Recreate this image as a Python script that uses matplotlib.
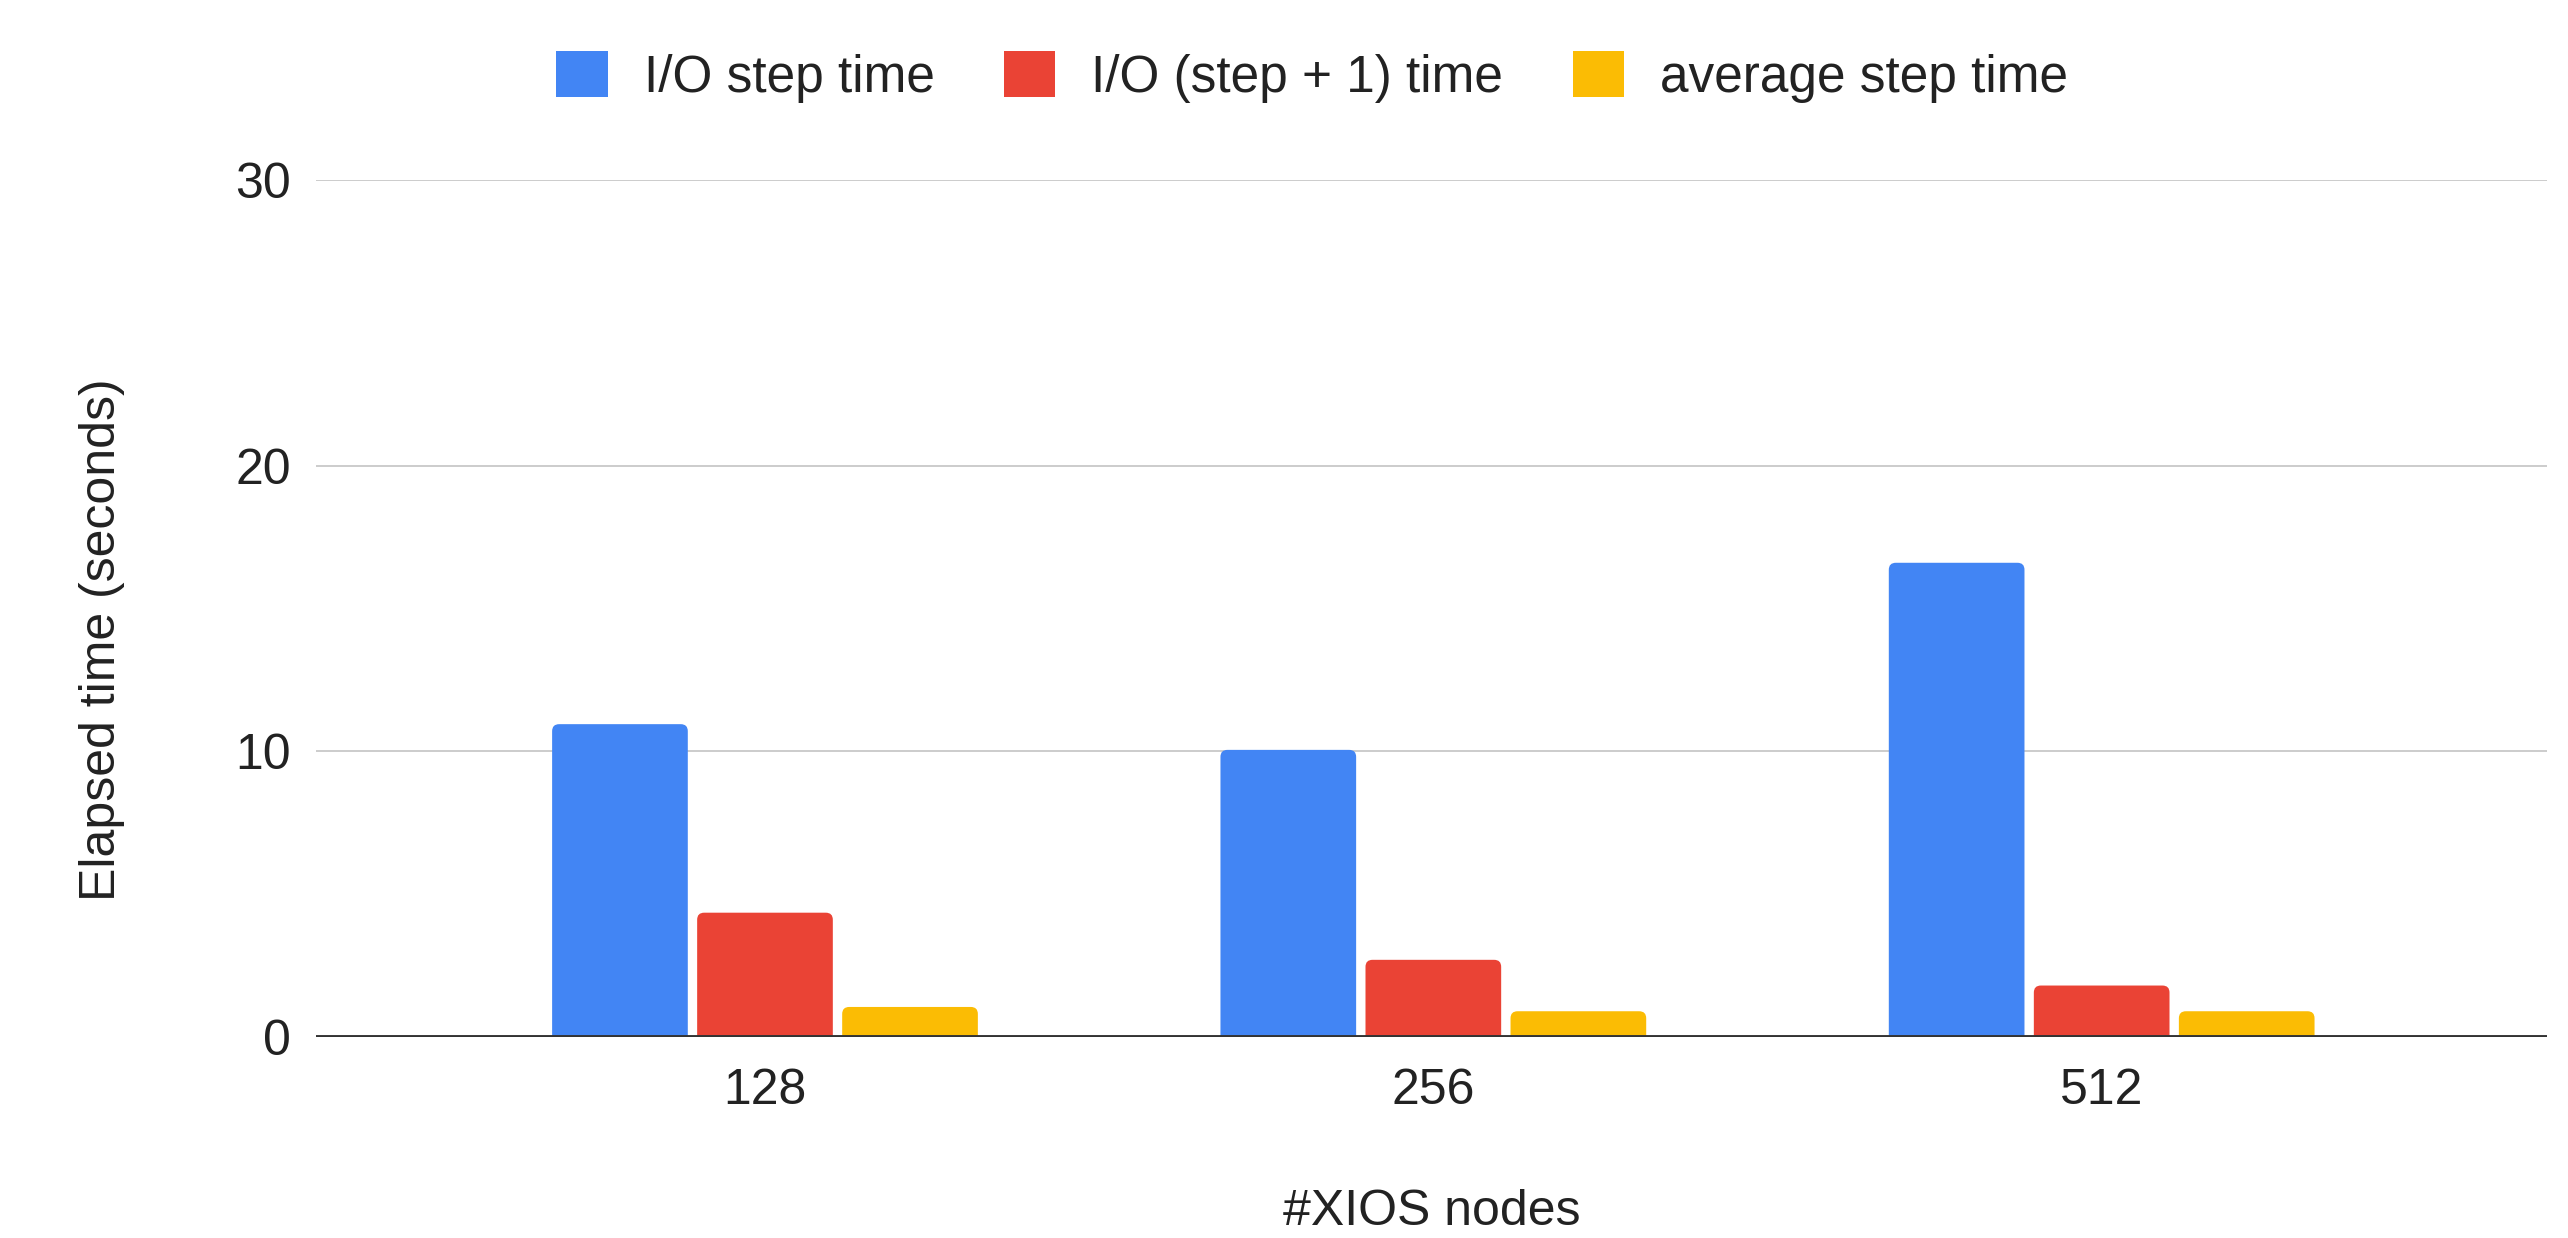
import matplotlib
matplotlib.use("Agg")
import matplotlib.pyplot as plt
from matplotlib.patches import FancyBboxPatch, Patch
import numpy as np

plt.rcParams['font.family'] = ['Liberation Sans', 'DejaVu Sans']

# Data
categories = ["128", "256", "512"]
io_step = [10.95, 10.05, 16.6]
io_step_plus1 = [4.35, 2.7, 1.8]
avg_step = [1.05, 0.9, 0.9]
series_names = ["I/O step time", "I/O (step + 1) time", "average step time"]
colors = ["#4285F4", "#EA4335", "#FBBC04"]

fig = plt.figure(figsize=(25.68, 12.38), dpi=100)
ax = fig.add_axes([0.123, 0.1624, 0.869, 0.6922])

x = np.arange(len(categories))
width = 0.203
offsets = [-0.217, 0.0, 0.217]
series = [io_step, io_step_plus1, avg_step]

ax.set_xlim(-0.672, 2.667)
ax.set_ylim(0, 30)

# Bars with slightly rounded top corners
px_per_x = 0.869 * 2568 / (2.667 + 0.672)
px_per_y = 0.6922 * 1238 / 30
aspect = px_per_x / px_per_y
r = 7 / px_per_x
ext = 10 / px_per_y
for vals, off, c in zip(series, offsets, colors):
    bars = ax.bar(x + off, vals, width, color=c, zorder=3)
    for b in bars:
        b.set_visible(False)
        p = FancyBboxPatch((b.get_x(), -ext), b.get_width(), b.get_height() + ext,
                           boxstyle=f"round,pad=0,rounding_size={r}",
                           mutation_aspect=aspect, facecolor=c, edgecolor="none",
                           zorder=3, clip_on=True)
        ax.add_patch(p)

ax.set_yticks([0, 10, 20, 30])
ax.set_xticks(x)
ax.set_xticklabels(categories)
ax.yaxis.grid(True, color="#cccccc", linewidth=1.4, zorder=0)
ax.axhline(0, color="#333333", linewidth=2.8, zorder=4)
for s in ax.spines.values():
    s.set_visible(False)
ax.tick_params(axis="both", length=0, labelsize=36, colors="#222222")
ax.tick_params(axis="y", pad=18)
ax.tick_params(axis="x", pad=22)

fig.text(102 / 2568, 1 - 640 / 1238, "Elapsed time (seconds)", rotation=90,
         ha="center", va="center", fontsize=36, color="#222222")
fig.text(1432 / 2568, 1 - 1212 / 1238, "#XIOS nodes", ha="center", va="center",
         fontsize=36, color="#222222")

handles = [Patch(facecolor=c, edgecolor="none") for c in colors]
fig.legend(handles, series_names, loc="center", bbox_to_anchor=(0.511, 0.938),
           ncol=3, frameon=False, fontsize=37, handlelength=1.0, handleheight=1.0,
           handletextpad=0.7, columnspacing=1.35, labelcolor="#222222")

fig.savefig("out.png", dpi=100, facecolor="white")
